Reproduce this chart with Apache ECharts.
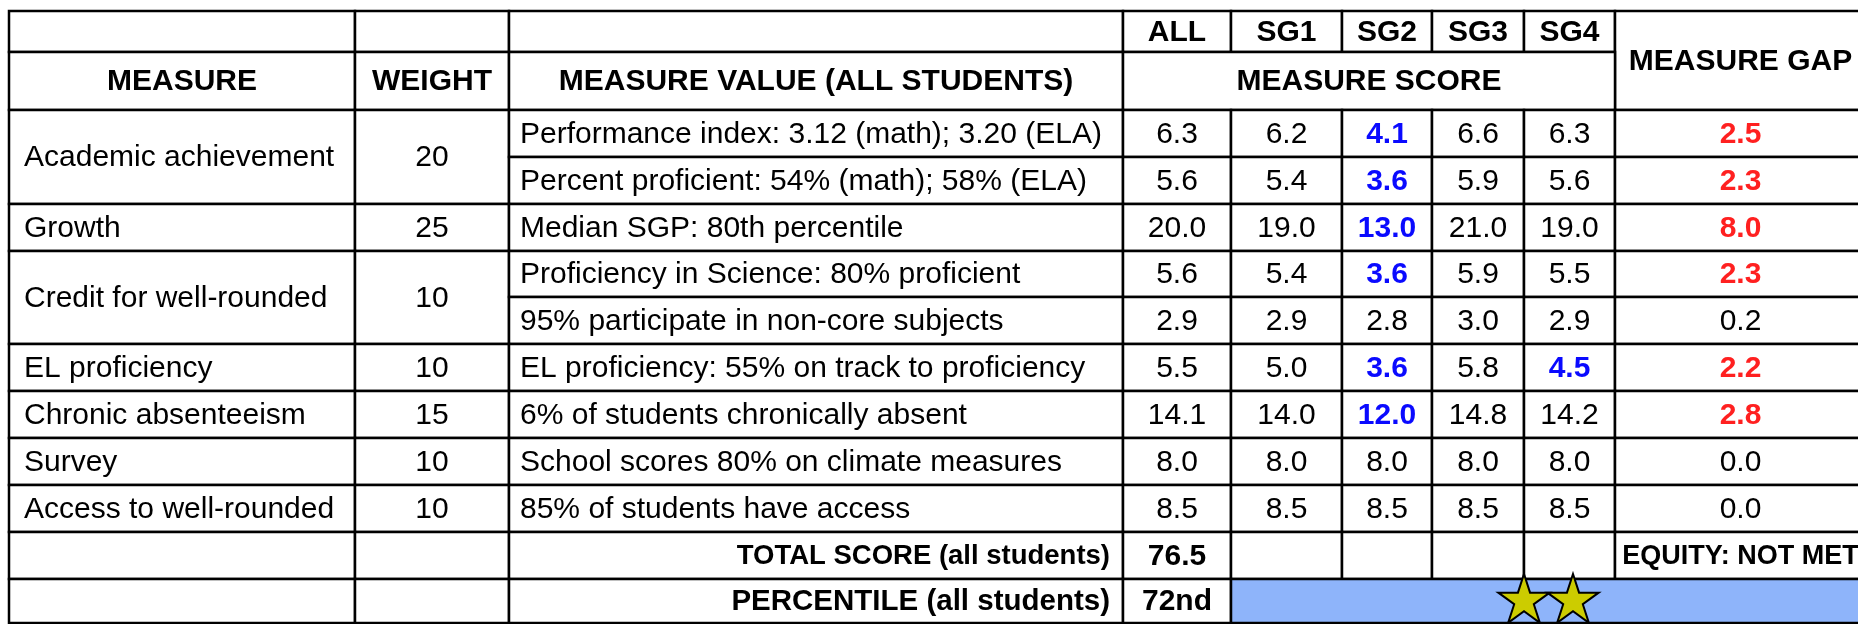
<!DOCTYPE html>
<html><head><meta charset="utf-8">
<script src="https://cdn.jsdelivr.net/npm/echarts@6/dist/echarts.min.js"></script>
<style>html,body{margin:0;padding:0;background:#fff}#c{width:1858px;height:624px}</style>
</head><body><div id="c"></div>
<script>
// ---------------- DATA ----------------
const scoreHeaders = ['ALL', 'SG1', 'SG2', 'SG3', 'SG4'];
const measures = ['Academic achievement', 'Growth', 'Credit for well-rounded', 'EL proficiency', 'Chronic absenteeism', 'Survey', 'Access to well-rounded'];
const weights = [20, 25, 10, 10, 15, 10, 10];
const subRowsPerMeasure = [2, 1, 2, 1, 1, 1, 1];
const measureValues = [
  'Performance index: 3.12 (math); 3.20 (ELA)',
  'Percent proficient: 54% (math); 58% (ELA)',
  'Median SGP: 80th percentile',
  'Proficiency in Science: 80% proficient',
  '95% participate in non-core subjects',
  'EL proficiency: 55% on track to proficiency',
  '6% of students chronically absent',
  'School scores 80% on climate measures',
  '85% of students have access'
];
const scoreAll = [6.3, 5.6, 20.0, 5.6, 2.9, 5.5, 14.1, 8.0, 8.5];
const scoreSG1 = [6.2, 5.4, 19.0, 5.4, 2.9, 5.0, 14.0, 8.0, 8.5];
const scoreSG2 = [4.1, 3.6, 13.0, 3.6, 2.8, 3.6, 12.0, 8.0, 8.5];
const scoreSG3 = [6.6, 5.9, 21.0, 5.9, 3.0, 5.8, 14.8, 8.0, 8.5];
const scoreSG4 = [6.3, 5.6, 19.0, 5.5, 2.9, 4.5, 14.2, 8.0, 8.5];
const measureGaps = [2.5, 2.3, 8.0, 2.3, 0.2, 2.2, 2.8, 0.0, 0.0];
const lowRowsSG1 = [];
const lowRowsSG2 = [0, 1, 2, 3, 5, 6];
const lowRowsSG3 = [];
const lowRowsSG4 = [5];
const flaggedGapRows = [0, 1, 2, 3, 5, 6];
const totalLabel = 'TOTAL SCORE (all students)';
const percentileLabel = 'PERCENTILE (all students)';
const totalScore = 76.5;
const percentileValue = '72nd';
const equityStatus = 'EQUITY: NOT MET';
const starCount = 2;

// ---------------- LAYOUT (axis units) ----------------
const COL = [9, 355, 509, 1123, 1231, 1342, 1432, 1524, 1615, 1866];
const ROW = [11, 52, 110, 157, 204, 251, 297, 344, 391, 438, 485, 532, 579, 623];
const FONT = "'Liberation Sans', Arial, sans-serif";
const SIZE = 30;
const BLUE_TXT = '#0a0aff', RED_TXT = '#ff2020', BAND = '#8eb4fa', STAR = '#cccc00';
const STAR_R = 27, STAR_GAP = 49;

const scoreSets = [scoreAll, scoreSG1, scoreSG2, scoreSG3, scoreSG4];
const lowSets = [[], lowRowsSG1, lowRowsSG2, lowRowsSG3, lowRowsSG4];

const cells = [];
function cell(c0, c1, r0, r1, text, o) {
  cells.push(Object.assign({c0, c1, r0, r1, text: text, align: 'center', bold: false, color: '#000', fill: '#fff', pad: 0, size: SIZE, stars: 0}, o || {}));
}
// header row 0
cell(0, 1, 0, 1, ''); cell(1, 2, 0, 1, ''); cell(2, 3, 0, 1, '');
scoreHeaders.forEach((h, k) => cell(3 + k, 4 + k, 0, 1, h, {bold: true}));
cell(8, 9, 0, 2, 'MEASURE GAP', {bold: true});
// header row 1
cell(0, 1, 1, 2, 'MEASURE', {bold: true});
cell(1, 2, 1, 2, 'WEIGHT', {bold: true});
cell(2, 3, 1, 2, 'MEASURE VALUE (ALL STUDENTS)', {bold: true});
cell(3, 8, 1, 2, 'MEASURE SCORE', {bold: true});
// body
let r = 2, idx = 0;
measures.forEach((m, mi) => {
  const n = subRowsPerMeasure[mi];
  cell(0, 1, r, r + n, m, {align: 'left', pad: 15});
  cell(1, 2, r, r + n, String(weights[mi]));
  for (let j = 0; j < n; j++) {
    const rr = r + j;
    cell(2, 3, rr, rr + 1, measureValues[idx], {align: 'left', pad: 11});
    scoreSets.forEach((s, k) => {
      const low = lowSets[k].indexOf(idx) >= 0;
      cell(3 + k, 4 + k, rr, rr + 1, s[idx].toFixed(1), low ? {bold: true, color: BLUE_TXT} : {});
    });
    const red = flaggedGapRows.indexOf(idx) >= 0;
    cell(8, 9, rr, rr + 1, measureGaps[idx].toFixed(1), red ? {bold: true, color: RED_TXT} : {});
    idx++;
  }
  r += n;
});
// total row
cell(0, 1, r, r + 1, ''); cell(1, 2, r, r + 1, '');
cell(2, 3, r, r + 1, totalLabel, {bold: true, align: 'right', pad: 13, size: 27.5});
cell(3, 4, r, r + 1, totalScore.toFixed(1), {bold: true});
for (let k = 4; k < 8; k++) cell(k, k + 1, r, r + 1, '');
cell(8, 9, r, r + 1, equityStatus, {bold: true, size: 27});
r++;
// percentile row
cell(0, 1, r, r + 1, ''); cell(1, 2, r, r + 1, '');
cell(2, 3, r, r + 1, percentileLabel, {bold: true, align: 'right', pad: 13, size: 29.5});
cell(3, 4, r, r + 1, percentileValue, {bold: true});
cell(4, 9, r, r + 1, '', {fill: BAND, stars: starCount});

function renderItem(params, api) {
  const c = cells[params.dataIndex];
  const p0 = api.coord([api.value(0), api.value(1)]);
  const p1 = api.coord([api.value(2), api.value(3)]);
  const w = p1[0] - p0[0], h = p1[1] - p0[1];
  const children = [{
    type: 'rect', shape: {x: p0[0], y: p0[1], width: w, height: h},
    style: {fill: c.fill, stroke: '#000', lineWidth: 2.5}
  }];
  if (c.text) {
    let tx = (p0[0] + p1[0]) / 2;
    if (c.align === 'left') tx = p0[0] + c.pad;
    if (c.align === 'right') tx = p1[0] - c.pad;
    children.push({
      type: 'text',
      style: {
        text: c.text, x: tx, y: (p0[1] + p1[1]) / 2 + 1,
        fill: c.color, font: (c.bold ? 'bold ' : '') + c.size + 'px ' + FONT,
        align: c.align, verticalAlign: 'middle', textAlign: c.align, textVerticalAlign: 'middle'
      }
    });
  }
  if (c.stars) {
    const cx0 = (p0[0] + p1[0]) / 2, cy = (p0[1] + p1[1]) / 2;
    for (let s = 0; s < c.stars; s++) {
      const cx = cx0 + (s - (c.stars - 1) / 2) * STAR_GAP;
      const pts = [];
      for (let i = 0; i < 10; i++) {
        const a = -Math.PI / 2 + i * Math.PI / 5;
        const rad = i % 2 === 0 ? STAR_R : STAR_R * 0.382;
        pts.push([cx + rad * Math.cos(a), cy + rad * Math.sin(a)]);
      }
      children.push({type: 'polygon', shape: {points: pts}, style: {fill: STAR, stroke: '#000', lineWidth: 2}});
    }
  }
  return {type: 'group', children};
}

const chart = echarts.init(document.getElementById('c'), null, {renderer: 'canvas'});
chart.setOption({
  animation: false,
  backgroundColor: '#fff',
  grid: {left: 0, right: 0, top: 0, bottom: 0},
  xAxis: {type: 'value', min: 0, max: 1858, show: false},
  yAxis: {type: 'value', min: 0, max: 624, inverse: true, show: false},
  series: [{
    type: 'custom', coordinateSystem: 'cartesian2d', clip: false, silent: true,
    data: cells.map(c => [COL[c.c0], ROW[c.r0], COL[c.c1], ROW[c.r1]]),
    encode: {x: [0, 2], y: [1, 3]},
    renderItem
  }]
});
</script></body></html>
